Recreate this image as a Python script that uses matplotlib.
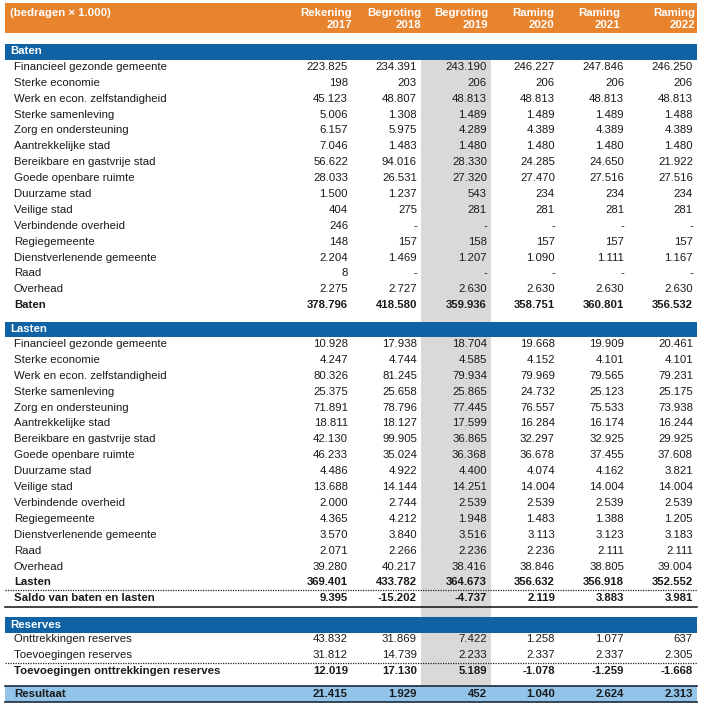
import matplotlib
matplotlib.use("Agg")
import matplotlib.pyplot as plt
from matplotlib.patches import Rectangle

plt.rcParams['font.family'] = ['Liberation Sans', 'DejaVu Sans']

# kolomkoppen
col_kind = ['Rekening', 'Begroting', 'Begroting', 'Raming', 'Raming', 'Raming']
col_year = ['2017', '2018', '2019', '2020', '2021', '2022']

programmas = ['Financieel gezonde gemeente', 'Sterke economie', 'Werk en econ. zelfstandigheid',
              'Sterke samenleving', 'Zorg en ondersteuning', 'Aantrekkelijke stad',
              'Bereikbare en gastvrije stad', 'Goede openbare ruimte', 'Duurzame stad',
              'Veilige stad', 'Verbindende overheid', 'Regiegemeente',
              'Dienstverlenende gemeente', 'Raad', 'Overhead']

# None = '-'
baten = [
    [223825, 234391, 243190, 246227, 247846, 246250],
    [198, 203, 206, 206, 206, 206],
    [45123, 48807, 48813, 48813, 48813, 48813],
    [5006, 1308, 1489, 1489, 1489, 1488],
    [6157, 5975, 4289, 4389, 4389, 4389],
    [7046, 1483, 1480, 1480, 1480, 1480],
    [56622, 94016, 28330, 24285, 24650, 21922],
    [28033, 26531, 27320, 27470, 27516, 27516],
    [1500, 1237, 543, 234, 234, 234],
    [404, 275, 281, 281, 281, 281],
    [246, None, None, None, None, None],
    [148, 157, 158, 157, 157, 157],
    [2204, 1469, 1207, 1090, 1111, 1167],
    [8, None, None, None, None, None],
    [2275, 2727, 2630, 2630, 2630, 2630],
]
baten_totaal = [378796, 418580, 359936, 358751, 360801, 356532]

lasten = [
    [10928, 17938, 18704, 19668, 19909, 20461],
    [4247, 4744, 4585, 4152, 4101, 4101],
    [80326, 81245, 79934, 79969, 79565, 79231],
    [25375, 25658, 25865, 24732, 25123, 25175],
    [71891, 78796, 77445, 76557, 75533, 73938],
    [18811, 18127, 17599, 16284, 16174, 16244],
    [42130, 99905, 36865, 32297, 32925, 29925],
    [46233, 35024, 36368, 36678, 37455, 37608],
    [4486, 4922, 4400, 4074, 4162, 3821],
    [13688, 14144, 14251, 14004, 14004, 14004],
    [2000, 2744, 2539, 2539, 2539, 2539],
    [4365, 4212, 1948, 1483, 1388, 1205],
    [3570, 3840, 3516, 3113, 3123, 3183],
    [2071, 2266, 2236, 2236, 2111, 2111],
    [39280, 40217, 38416, 38846, 38805, 39004],
]
lasten_totaal = [369401, 433782, 364673, 356632, 356918, 352552]
saldo = [9395, -15202, -4737, 2119, 3883, 3981]

reserves_labels = ['Onttrekkingen reserves', 'Toevoegingen reserves']
reserves = [
    [43832, 31869, 7422, 1258, 1077, 637],
    [31812, 14739, 2233, 2337, 2337, 2305],
]
reserves_totaal = [12019, 17130, 5189, -1078, -1259, -1668]
resultaat = [21415, 1929, 452, 1040, 2624, 2313]

ORANJE = '#E8832E'
BLAUW = '#0F63A5'
LICHTBLAUW = '#92C4E9'
GRIJS = '#D9D9D7'
TEKST = '#1a1a1a'


def fmt(v):
    if v is None:
        return '-'
    s = f'{abs(v):,}'.replace(',', '.')
    return '-' + s if v < 0 else s


fig = plt.figure(figsize=(7.06, 7.09), dpi=100)
ax = fig.add_axes([0, 0, 1, 1])
ax.set_xlim(0, 706)
ax.set_ylim(709, 0)
ax.axis('off')

X0, X1 = 5, 697
LABEL_X = 14
val_x = [348, 417, 487, 555, 624, 693]
head_x = [352, 421, 488, 554, 620, 695]
ROW = 15.9
FS = 8.2

# grijze kolom (begroting 2019)
ax.add_patch(Rectangle((421, 59), 70, 686 - 59, color=GRIJS, lw=0, zorder=0))

# kop
ax.add_patch(Rectangle((X0, 3), X1 - X0, 30, color=ORANJE, lw=0, zorder=1))
ax.text(10, 12.5, '(bedragen × 1.000)', color='white', fontsize=FS, fontweight='bold',
        ha='left', va='center', zorder=3)
for x, k, j in zip(head_x, col_kind, col_year):
    ax.text(x, 12.5, k, color='white', fontsize=FS, fontweight='bold', ha='right', va='center', zorder=3)
    ax.text(x, 25, j, color='white', fontsize=FS, fontweight='bold', ha='right', va='center', zorder=3)


def balk(y_top, titel):
    ax.add_patch(Rectangle((X0, y_top), X1 - X0, 15.5, color=BLAUW, lw=0, zorder=1))
    ax.text(10, y_top + 7.5, titel, color='white', fontsize=FS, fontweight='bold',
            ha='left', va='center', zorder=3)


def rij(y, label, vals, bold=False):
    w = 'bold' if bold else 'normal'
    ax.text(LABEL_X, y, label, color=TEKST, fontsize=FS, fontweight=w, ha='left', va='center', zorder=3)
    for x, v in zip(val_x, vals):
        ax.text(x, y, fmt(v), color=TEKST, fontsize=FS, fontweight=w, ha='right', va='center', zorder=3)


# Baten
balk(44, 'Baten')
y = 66.8
for lab, vals in zip(programmas, baten):
    rij(y, lab, vals)
    y += ROW
rij(y, 'Baten', baten_totaal, bold=True)

# Lasten
balk(321.5, 'Lasten')
y = 344
for lab, vals in zip(programmas, lasten):
    rij(y, lab, vals)
    y += ROW
rij(y, 'Lasten', lasten_totaal, bold=True)
ax.plot([X0, X1], [y + 8, y + 8], color='#222222', lw=0.9, ls=(0, (1, 1)), zorder=2)
y += ROW
rij(y, 'Saldo van baten en lasten', saldo, bold=True)
ax.plot([X0, X1], [y + 8.5, y + 8.5], color='#111111', lw=1.1, zorder=2)

# Reserves
balk(617, 'Reserves')
y = 639.5
for lab, vals in zip(reserves_labels, reserves):
    rij(y, lab, vals)
    y += ROW
ax.plot([X0, X1], [y - 8, y - 8], color='#222222', lw=0.9, ls=(0, (1, 1)), zorder=2)
rij(y, 'Toevoegingen onttrekkingen reserves', reserves_totaal, bold=True)

# Resultaat
ax.add_patch(Rectangle((X0, 686), X1 - X0, 16, color=LICHTBLAUW, lw=0, zorder=1))
ax.plot([X0, X1], [686, 686], color='#1b2a3a', lw=1.2, zorder=2)
ax.plot([X0, X1], [702, 702], color='#1b2a3a', lw=1.2, zorder=2)
rij(694, 'Resultaat', resultaat, bold=True)

fig.savefig('out.png', dpi=100)
